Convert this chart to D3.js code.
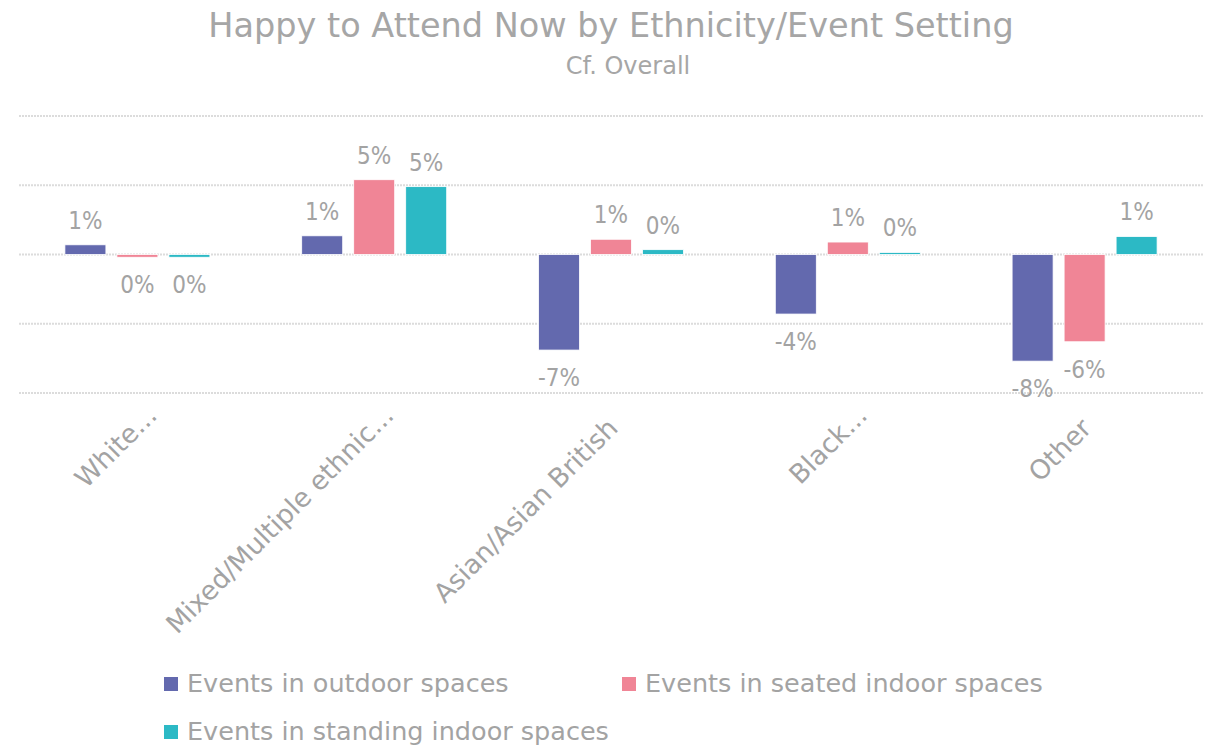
<!DOCTYPE html>
<html>
<head>
<meta charset="utf-8">
<script src="https://cdn.jsdelivr.net/npm/d3@7/dist/d3.min.js"></script>
<style>
  html, body { margin: 0; padding: 0; background: #ffffff; }
  svg { display: block; }
</style>
</head>
<body>
<svg id="chart" width="1213" height="750"></svg>
<script>
// ---- Data ----
const categories = ["White...", "Mixed/Multiple ethnic...", "Asian/Asian British", "Black...", "Other"];
const seriesNames = ["Events in outdoor spaces", "Events in seated indoor spaces", "Events in standing indoor spaces"];
const outdoor  = [0.7, 1.35, -6.9, -4.3, -7.7];
const seated   = [-0.2, 5.4, 1.1, 0.9, -6.3];
const standing = [-0.2, 4.9, 0.35, 0.15, 1.3];
const yTicks = [-10, -5, 0, 5, 10];
const colors = ["#6369AE", "#F08596", "#2CB9C5"];
const titleText = "Happy to Attend Now by Ethnicity/Event Setting";
const subtitleText = "Cf. Overall";

const seriesValues = [outdoor, seated, standing];
const rows = [];
categories.forEach((c, i) => seriesValues.forEach((vals, s) => rows.push({cat: c, s: seriesNames[s], si: s, v: vals[i]})));

const svg = d3.select("#chart");
const plotLeft = 19, plotRight = 1203;
const font = "'DejaVu Sans', Verdana, sans-serif";
const labelFont = "'Liberation Sans Narrow', 'DejaVu Sans Condensed', 'Arial Narrow', sans-serif";
const textColor = "#a3a3a3";

const x0 = d3.scaleBand().domain(categories).range([plotLeft, plotRight]).padding(0);
const groupHalf = 72.5;
const x1 = d3.scaleBand().domain(seriesNames).range([-groupHalf, groupHalf]).paddingInner(11 / 52).paddingOuter(0);
const y = d3.scaleLinear().domain([-10, 10]).range([393, 116]);

// Title
svg.append("text").attr("x", 611).attr("y", 37).attr("text-anchor", "middle")
  .attr("font-family", font).attr("font-size", 33.5).attr("fill", "#a6a6a6").text(titleText);
svg.append("text").attr("x", 628).attr("y", 74).attr("text-anchor", "middle")
  .attr("font-family", font).attr("font-size", 24).attr("fill", "#a6a6a6").text(subtitleText);

// Gridlines
svg.append("g").selectAll("line").data(yTicks).join("line")
  .attr("x1", plotLeft).attr("x2", plotRight)
  .attr("y1", d => y(d)).attr("y2", d => y(d))
  .attr("stroke", "#dcdcdc").attr("stroke-width", 2).attr("stroke-dasharray", "2 1");

// Bars
const cx = d => x0(d.cat) + x0.bandwidth() / 2;
svg.append("g").selectAll("rect").data(rows).join("rect")
  .attr("x", d => cx(d) + x1(d.s))
  .attr("width", x1.bandwidth())
  .attr("y", d => Math.min(y(d.v), y(0)))
  .attr("height", d => Math.abs(y(d.v) - y(0)))
  .attr("fill", d => colors[d.si])
  .attr("stroke", "#ffffff").attr("stroke-width", 0.8);

// Data labels
const fmt = v => { const r = Math.round(v); return (r === 0 ? "0" : String(r)) + "%"; };
svg.append("g").selectAll("text").data(rows).join("text")
  .attr("x", d => cx(d) + x1(d.s) + x1.bandwidth() / 2)
  .attr("y", d => d.v >= 0 ? y(d.v) - 16 : y(d.v) + 36)
  .attr("text-anchor", "middle")
  .attr("font-family", labelFont).attr("font-size", 24).attr("fill", textColor)
  .text(d => fmt(d.v));

// Category axis labels (rotated); untruncated labels sit slightly further down-left
svg.append("g").selectAll("text").data(categories).join("text")
  .attr("transform", d => `translate(${x0(d) + x0.bandwidth() / 2 + 21},${417}) rotate(-45)`)
  .attr("dx", d => d.endsWith("...") ? 0 : -18)
  .attr("text-anchor", "end")
  .attr("font-family", font).attr("font-size", 26.5).attr("fill", textColor)
  .text(d => d);

// Legend
const legendPos = [[164, 677], [622, 677], [164, 725]];
const lg = svg.append("g").selectAll("g").data(seriesNames).join("g")
  .attr("transform", (d, i) => `translate(${legendPos[i][0]},${legendPos[i][1]})`);
lg.append("rect").attr("width", 14).attr("height", 14).attr("fill", (d, i) => colors[i]);
lg.append("text").attr("x", 23).attr("y", 15).attr("font-family", font).attr("font-size", 25.5)
  .attr("fill", textColor).text(d => d);
</script>
</body>
</html>
